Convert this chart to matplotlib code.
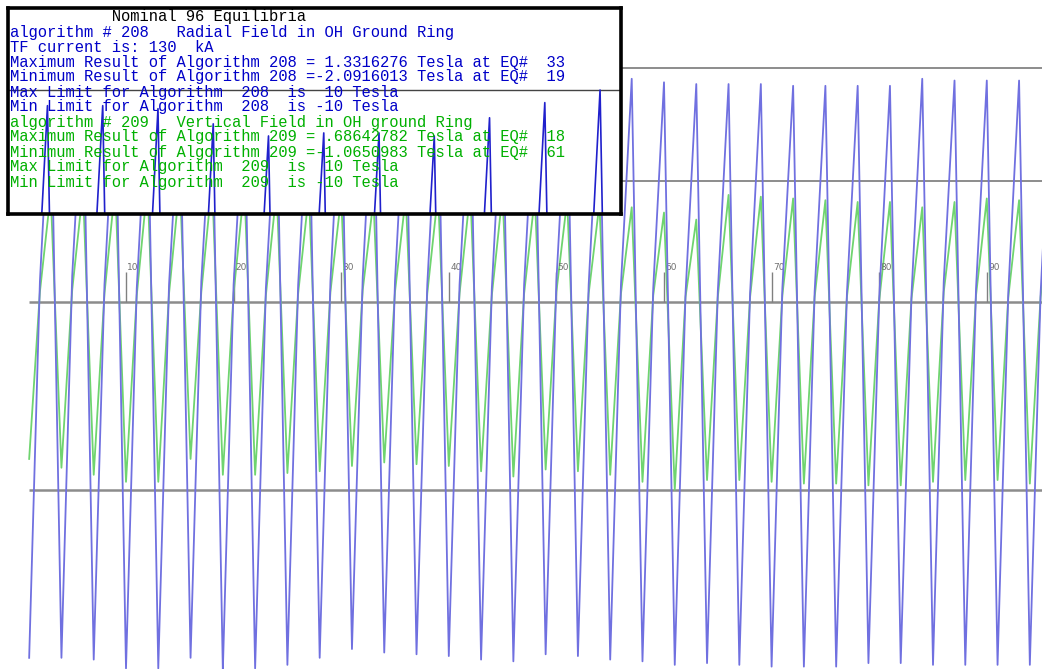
import numpy as np
import matplotlib
matplotlib.use("Agg")
import matplotlib.pyplot as plt

W, H = 1042, 669

# equilibrium numbers 1..96, every third one is a trough / middle / peak
eq = np.arange(1, 97)

# algorithm 208 (radial field), Tesla
blue_trough = [-2.02, -2.02, -2.03, -2.08, -2.08, -2.02, -2.0916, -2.08, -2.06, -2.02, -1.97,
               -1.99, -2.00, -2.01, -2.03, -2.04, -2.00, -2.01, -2.03, -2.04, -2.06, -2.05,
               -2.06, -2.07, -2.07, -2.07, -2.05, -2.05, -2.06, -2.06, -2.06, -2.06]
blue_mid = [0.12, 0.15, 0.10, 0.08, 0.10, 0.12, 0.10, 0.08, 0.10, 0.12, 0.14,
            0.12, 0.10, 0.10, 0.08, 0.10, 0.12, 0.10, 0.10, 0.08, 0.05, 0.06,
            0.05, 0.08, 0.06, 0.05, 0.02, 0.04, 0.12, 0.08, 0.06, 0.05]
blue_peak = [1.28, 1.28, 1.27, 1.22, 1.18, 1.19, 1.19, 1.18, 1.24, 1.29, 1.3316,
             1.28, 1.26, 1.25, 1.24, 1.25, 1.26, 1.27, 1.27, 1.25, 1.24, 1.24,
             1.24, 1.23, 1.23, 1.23, 1.23, 1.27, 1.26, 1.26, 1.26, 1.25]

# algorithm 209 (vertical field), Tesla
green_trough = [-0.89, -0.94, -0.98, -1.02, -1.02, -0.89, -0.98, -0.98, -0.97, -0.96, -0.93,
                -0.91, -0.92, -0.93, -0.96, -0.99, -0.95, -0.96, -0.98, -1.02, -1.0651, -1.01,
                -1.01, -1.02, -1.03, -1.03, -1.04, -1.04, -1.02, -1.01, -1.01, -1.03]
green_mid = [0.06, 0.07, 0.05, 0.04, 0.05, 0.06, 0.05, 0.04, 0.05, 0.06, 0.07,
             0.06, 0.05, 0.05, 0.04, 0.05, 0.06, 0.05, 0.05, 0.04, 0.03, 0.03,
             0.03, 0.04, 0.03, 0.03, 0.01, 0.02, 0.06, 0.04, 0.03, 0.03]
green_peak = [0.62, 0.64, 0.66, 0.67, 0.68, 0.6864, 0.66, 0.64, 0.62, 0.60, 0.58,
              0.60, 0.62, 0.63, 0.62, 0.60, 0.58, 0.56, 0.54, 0.51, 0.47, 0.61,
              0.60, 0.59, 0.58, 0.57, 0.57, 0.54, 0.57, 0.59, 0.58, 0.58]

levels = [1.3316276, 0.68642782, 0.0, -1.0650983]
ticks = [10, 20, 30, 40, 50, 60, 70, 80, 90]

lines = [
    ("           Nominal 96 Equilibria", "black"),
    ("algorithm # 208   Radial Field in OH Ground Ring", "#0000c8"),
    ("TF current is: 130  kA", "#0000c8"),
    ("Maximum Result of Algorithm 208 = 1.3316276 Tesla at EQ#  33", "#0000c8"),
    ("Minimum Result of Algorithm 208 =-2.0916013 Tesla at EQ#  19", "#0000c8"),
    ("Max Limit for Algorithm  208  is  10 Tesla", "#0000c8"),
    ("Min Limit for Algorithm  208  is -10 Tesla", "#0000c8"),
    ("algorithm # 209   Vertical Field in OH ground Ring", "#00b000"),
    ("Maximum Result of Algorithm 209 = .68642782 Tesla at EQ#  18", "#00b000"),
    ("Minimum Result of Algorithm 209 =-1.0650983 Tesla at EQ#  61", "#00b000"),
    ("Max Limit for Algorithm  209  is  10 Tesla", "#00b000"),
    ("Min Limit for Algorithm  209  is -10 Tesla", "#00b000"),
]

blue = np.empty(96)
blue[0::3], blue[1::3], blue[2::3] = blue_trough, blue_mid, blue_peak
green = np.empty(96)
green[0::3], green[1::3], green[2::3] = green_trough, green_mid, green_peak

fig = plt.figure(figsize=(W / 100, H / 100), dpi=100)
fig.patch.set_facecolor("white")

# main plot fills the whole picture
x0, sx = 18.4, 10.76      # pixel of EQ 0, pixels per EQ
y0, sy = 302.3, 176.0     # pixel of 0 Tesla, pixels per Tesla
ax = fig.add_axes([0, 0, 1, 1])
ax.set_xlim(-x0 / sx, (W - x0) / sx)
ax.set_ylim((y0 - H) / sy, y0 / sy)
ax.axis("off")

ax.hlines(levels[:2], 1, 100, color="#6e6e6e", lw=1.1, zorder=1)
ax.hlines(levels[2:], 1, 100, color="#8c8c8c", lw=1.8, zorder=1)
ax.vlines(ticks, 0, 0.172, color="#808080", lw=1.0, zorder=1)
for t in ticks:
    ax.text(t + 0.12, 0.195, str(t), fontsize=6.5, color="#707070",
            ha="left", va="center")

ax.plot(eq, green, color="#6fd46f", lw=1.3, zorder=2)
ax.plot(eq, blue, color="#7070e0", lw=1.3, zorder=3)

# text box, with the zoomed-in tops of algorithm 208 showing through it
bl, bt, br, bb = 8, 8, 621, 214
bx = fig.add_axes([bl / W, 1 - bb / H, (br - bl) / W, (bb - bt) / H])
bx.set_facecolor("white")
ox, osx = -7.8, 18.42
oy, osy = 90.0, 303.0
bx.set_xlim((bl - ox) / osx, (br - ox) / osx)
bx.set_ylim(levels[0] - (bb - oy) / osy, levels[0] + (oy - bt) / osy)
bx.set_xticks([])
bx.set_yticks([])
for s in bx.spines.values():
    s.set_linewidth(2.6)
    s.set_color("black")
bx.axhline(levels[0], color="#444444", lw=1.0)
bx.plot(eq, blue, color="#2020cc", lw=1.2)

for i, (txt, col) in enumerate(lines):
    fig.text(10 / W, 1 - (17 + 15 * i) / H, txt, color=col, fontsize=11.2,
             family=["Liberation Mono", "DejaVu Sans Mono"], ha="left", va="center")

fig.savefig("out.png", dpi=100, facecolor="white")
